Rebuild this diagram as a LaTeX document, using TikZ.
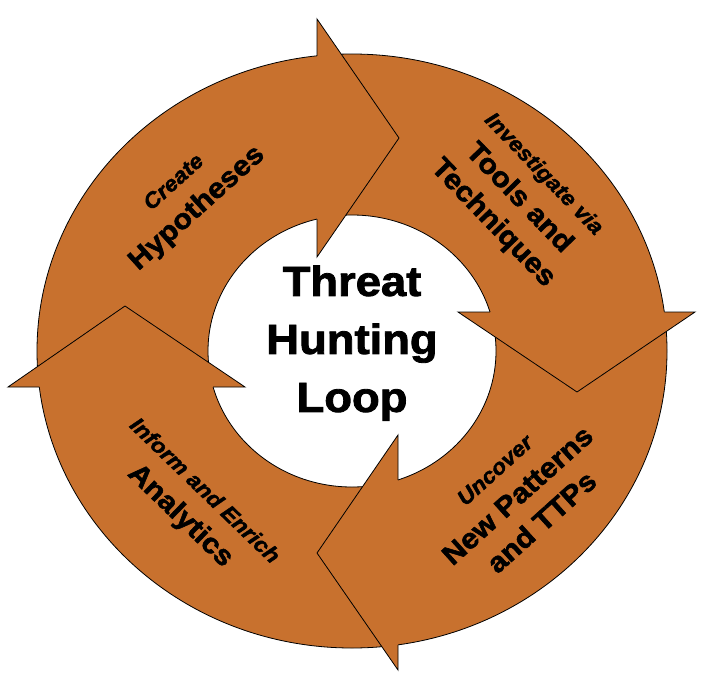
\documentclass[tikz,border=0pt]{standalone}
\usepackage{fontspec}
\setmainfont[FakeStretch = 1.08,
  BoldFeatures = {FakeBold = 2}, BoldItalicFeatures = {FakeBold = 2}]{Liberation Sans}
\definecolor{loopfill}{RGB}{200,113,46}
\tikzset{
  ring/.style = {fill = loopfill, draw = black, line width = 0.8pt, even odd rule},
  edge/.style = {draw = black, line width = 0.8pt, line join = miter},
  phase/.style = {align = center, inner sep = 0pt,
    font = \bfseries\fontsize{28}{36}\selectfont},
  hub/.style = {align = center, inner sep = 0pt,
    font = \bfseries\fontsize{42}{58}\selectfont},
}
\newcommand{\lead}[1]{{\itshape\fontsize{21.5}{36}\selectfont #1}}
\begin{document}
\begin{tikzpicture}[x = 1pt, y = -1pt]
  \useasboundingbox (0, 0) rectangle (703, 690);

  \coordinate (c) at (352, 351);
  \draw[ring] (c) ellipse [x radius = 315pt, y radius = 297pt]
    (c) ellipse [x radius = 144pt, y radius = 136pt];

  \foreach \p/\a/\t/\b/\q in {
    {(317, 55.8)}/{(317, 19)}/{(399, 138)}/{(317, 257)}/{(317, 219.1)},
    {(664.3, 312)}/{(695, 312)}/{(577, 392)}/{(458, 312)}/{(490, 312)},
    {(398, 644.8)}/{(398, 670)}/{(317, 553)}/{(398, 435)}/{(398, 480)},
    {(39.3, 387)}/{(8, 387)}/{(125, 306)}/{(245, 387)}/{(213.1, 387)}} {
    \fill[loopfill] \a -- \t -- \b -- cycle;
    \draw[edge] \p -- \a -- \t -- \b -- \q;
  }

  \node[hub] (loop) at (352, 343) {Threat\\Hunting\\Loop};

  \node[phase, rotate = 42] (create) at (187, 197)
    {\lead{Create}\\Hypotheses};
  \node[phase, rotate = -46] (investigate) at (517, 200)
    {\lead{Investigate via}\\Tools and\\Techniques};
  \node[phase, rotate = 42] (uncover) at (519, 497)
    {\lead{Uncover}\\New Patterns\\and TTPs};
  \node[phase, rotate = -44] (inform) at (191, 505)
    {\lead{Inform and Enrich}\\Analytics};

\end{tikzpicture}
\end{document}
